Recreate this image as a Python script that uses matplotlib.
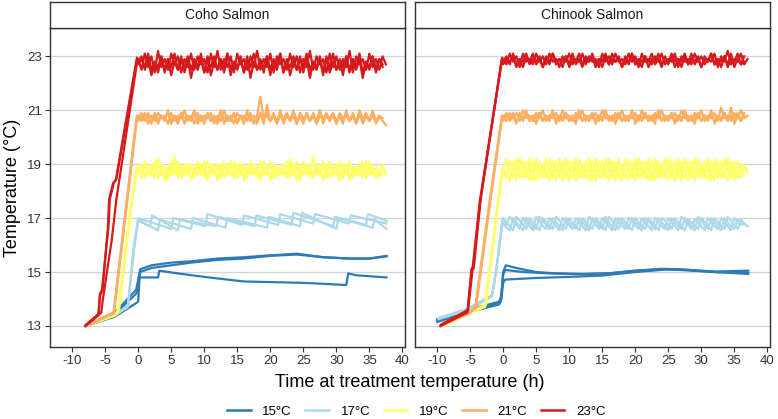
import numpy as np
import matplotlib.pyplot as plt
from matplotlib.lines import Line2D

plt.rcParams["font.family"] = ["Liberation Sans", "DejaVu Sans"]

PANELS = ["Coho Salmon", "Chinook Salmon"]
TREATMENTS = ["15°C", "17°C", "19°C", "21°C", "23°C"]
COLORS = ["#2C7BB6", "#ABD9E9", "#FFFF66", "#FDAE61", "#D7191C"]
X_TICKS = [-10, -5, 0, 5, 10, 15, 20, 25, 30, 35, 40]
Y_TICKS = [13, 15, 17, 19, 21, 23]
STEP_H = 0.5  # logger interval once the target temperature is reached

# ---------------- Coho salmon ----------------
# 15 C tanks: (hours, temp) knots
COHO_15_T = [
    [-8.0, -3.5, -0.3, -0.1, 0.3, 2, 5, 8, 12, 16, 20, 24, 28, 32, 35, 37.6],
    [-7.8, -3.5, -0.3, 0.0, 0.3, 2, 5, 8, 12, 16, 20, 24, 28, 32, 35, 37.6],
    [-7.9, -3.5, -0.3, 0.0, 0.2, 3.0, 3.2, 6, 10, 16, 25, 31.5, 31.8, 33, 37.6],
]
COHO_15_Y = [
    [13.0, 13.5, 14.35, 14.6, 15.1, 15.25, 15.35, 15.4, 15.5, 15.55, 15.62, 15.68, 15.55, 15.5, 15.5, 15.58],
    [13.05, 13.45, 14.2, 14.4, 15.0, 15.15, 15.25, 15.35, 15.45, 15.5, 15.6, 15.65, 15.55, 15.5, 15.5, 15.6],
    [13.0, 13.35, 13.85, 13.9, 14.8, 14.8, 15.05, 14.95, 14.82, 14.65, 14.6, 14.52, 14.95, 14.88, 14.8],
]
# 17 C tanks: ramp then slow sawtooth (heater cycling)
COHO_17_T = [
    [-8.0, -3.5, -1.6, -0.7, 0, 5.0, 5.3, 10.2, 10.5, 15.7, 16.0, 21.2, 21.5, 26.5, 26.8, 31.9, 32.2, 37.6],
    [-7.9, -3.5, -1.5, -0.7, 0, 1.8, 2.1, 6.0, 6.3, 11.8, 12.1, 17.6, 17.9, 23.2, 23.5, 29.5, 29.8, 34.5, 34.8, 37.6],
    [-8.0, -3.4, -1.6, -0.6, 0, 3.0, 3.3, 8.0, 8.3, 13.2, 13.5, 19.5, 19.8, 24.5, 24.8, 30.0, 30.3, 35.5, 35.8, 37.6],
]
COHO_17_Y = [
    [13.0, 13.45, 13.7, 15.8, 17.0, 16.6, 17.0, 16.7, 17.15, 16.75, 17.1, 16.75, 17.15, 16.8, 17.15, 16.8, 17.1, 16.8],
    [13.05, 13.45, 13.75, 15.9, 16.95, 16.7, 17.1, 16.55, 16.95, 16.7, 17.05, 16.7, 17.1, 16.75, 17.2, 16.7, 17.05, 16.75, 17.15, 16.9],
    [13.0, 13.4, 13.7, 15.9, 16.9, 16.55, 16.95, 16.6, 17.0, 16.65, 17.0, 16.65, 17.05, 16.7, 17.2, 16.6, 17.0, 16.65, 16.95, 16.6],
]
COHO_19_RAMP_T = [[-7.9, -3.5, -3.0, -1.0, -0.2], [-7.8, -3.5, -2.9, -0.9, -0.15], [-7.9, -3.4, -3.0, -1.05, -0.25]]
COHO_19_RAMP_Y = [[13.0, 13.45, 13.6, 17.6, 18.9], [13.05, 13.45, 13.6, 17.7, 18.8], [13.0, 13.4, 13.55, 17.6, 18.85]]
COHO_19_LOGS = [
    [18.9, 18.5, 19.1, 18.6, 19.0, 18.5, 19.2, 18.6, 18.9, 18.4, 19.0, 18.6, 19.1, 18.5, 18.9, 18.6, 19.0, 18.5, 19.1,
     18.6, 18.9, 18.4, 19.0, 18.6, 18.9, 18.5, 19.1, 18.6, 19.0, 18.5, 18.9, 18.6, 19.0, 18.5, 19.1, 18.6, 18.9, 18.4,
     19.0, 18.6, 19.1, 18.5, 18.9, 18.6, 19.0, 18.5, 19.2, 18.6, 18.9, 18.4, 19.1, 18.6, 19.0, 18.5, 18.9, 18.6, 19.1,
     18.5, 19.0, 18.6, 18.9, 18.4, 19.0, 18.6, 19.1, 18.5, 18.9, 18.6, 19.0, 18.5, 19.1, 18.6, 18.9, 18.5, 19.0, 18.6],
    [18.7, 19.0, 18.5, 18.9, 18.6, 19.1, 18.5, 19.0, 18.4, 18.9, 18.6, 19.3, 18.5, 18.9, 18.6, 19.0, 18.4, 18.9, 18.6,
     19.0, 18.5, 19.1, 18.6, 18.9, 18.4, 19.0, 18.5, 18.9, 18.6, 19.1, 18.5, 19.0, 18.4, 18.9, 18.6, 19.0, 18.5, 19.1,
     18.6, 18.9, 18.4, 19.0, 18.5, 18.9, 18.6, 19.1, 18.5, 19.0, 18.4, 18.9, 18.6, 19.0, 18.5, 19.3, 18.6, 18.9, 18.4,
     19.0, 18.5, 18.9, 18.6, 19.1, 18.5, 19.0, 18.4, 18.9, 18.6, 19.0, 18.5, 19.1, 18.6, 18.9, 18.5, 18.8],
    [18.8, 18.6, 19.0, 18.7, 18.9, 18.5, 19.0, 18.7, 18.9, 18.6, 19.1, 18.7, 18.9, 18.5, 19.0, 18.7, 18.9, 18.6, 19.0,
     18.7, 19.1, 18.5, 18.9, 18.7, 19.0, 18.6, 18.9, 18.7, 19.1, 18.5, 19.0, 18.7, 18.9, 18.6, 19.0, 18.7, 18.9, 18.5,
     19.1, 18.7, 19.0, 18.6, 18.9, 18.7, 19.0, 18.5, 18.9, 18.7, 19.1, 18.6, 19.0, 18.7, 18.9, 18.5, 19.0, 18.7, 18.9,
     18.6, 19.1, 18.7, 19.0, 18.5, 18.9, 18.7, 19.0, 18.6, 18.9, 18.7, 19.1, 18.5, 19.0, 18.7, 18.9, 18.6, 18.7],
]
COHO_21_RAMP_T = [[-7.8, -3.7, -0.2], [-7.7, -3.65, -0.15], [-7.9, -3.75, -0.25]]
COHO_21_RAMP_Y = [[13.0, 13.5, 20.8], [13.05, 13.5, 20.75], [13.0, 13.45, 20.7]]
COHO_21_LOGS = [
    [20.8, 20.6, 20.9, 20.5, 20.8, 20.6, 20.9, 20.7, 20.8, 20.5, 20.9, 20.6, 20.8, 20.7, 21.0, 20.6, 20.8, 20.5, 20.9,
     20.6, 20.8, 20.7, 20.9, 20.5, 20.8, 20.6, 21.0, 20.6, 20.8, 20.5, 20.9, 20.7, 20.8, 20.6, 20.9, 20.5, 20.8, 21.5,
     20.7, 20.9, 20.6, 20.8, 20.5, 21.0, 20.6, 20.8, 20.7, 20.9, 20.5, 20.8, 20.6, 20.9, 20.6, 20.8, 20.5, 21.0, 20.6,
     20.8, 20.7, 20.9, 20.5, 20.8, 20.6, 20.9, 20.6, 20.8, 20.5, 21.0, 20.7, 20.8, 20.6, 20.9, 20.5, 20.8, 20.6, 20.45],
    [20.7, 20.9, 20.6, 20.8, 20.5, 20.9, 20.6, 20.8, 20.6, 21.0, 20.5, 20.8, 20.6, 20.9, 20.5, 20.8, 20.7, 21.0, 20.6,
     20.8, 20.5, 20.9, 20.6, 20.8, 20.6, 21.0, 20.5, 20.8, 20.6, 20.9, 20.6, 20.8, 20.5, 21.0, 20.6, 20.8, 20.6, 20.9,
     20.5, 21.2, 20.6, 20.8, 20.6, 20.9, 20.5, 20.8, 20.6, 21.0, 20.6, 20.8, 20.5, 20.9, 20.6, 20.8, 20.6, 21.0, 20.5,
     20.8, 20.6, 20.9, 20.6, 20.8, 20.5, 21.0, 20.6, 20.8, 20.6, 20.9, 20.5, 20.8, 20.6, 21.0, 20.6, 20.8, 20.7],
    [20.6, 20.8, 20.7, 20.9, 20.6, 20.8, 20.5, 20.8, 20.7, 20.9, 20.6, 20.8, 20.5, 20.9, 20.7, 20.8, 20.6, 20.9, 20.5,
     20.8, 20.7, 20.9, 20.6, 20.8, 20.5, 20.9, 20.7, 20.8, 20.6, 20.9, 20.5, 20.8, 20.7, 20.9, 20.6, 20.8, 20.5, 20.9,
     20.7, 20.8, 20.6, 20.9, 20.5, 20.8, 20.7, 20.9, 20.6, 20.8, 20.5, 20.9, 20.7, 20.8, 20.6, 20.9, 20.5, 20.8, 20.7,
     20.9, 20.6, 20.8, 20.5, 20.9, 20.7, 20.8, 20.6, 20.9, 20.5, 20.8, 20.7, 20.9, 20.6, 20.8, 20.6, 20.7],
]
COHO_23_RAMP_T = [
    [-8.0, -6.0, -5.8, -5.4, -4.6, -4.4, -3.8, -3.4, -0.2],
    [-8.0, -5.6, -5.4, -4.0, -3.3, -0.1],
    [-7.9, -6.0, -5.8, -5.5, -4.5, -4.3, -3.7, -3.3, -0.2],
]
COHO_23_RAMP_Y = [
    [13.0, 13.4, 14.2, 14.35, 16.6, 17.7, 18.3, 18.4, 22.95],
    [13.0, 13.5, 13.9, 16.2, 17.7, 22.9],
    [13.05, 13.45, 14.1, 14.3, 16.7, 17.7, 18.3, 18.45, 22.85],
]
COHO_23_LOGS = [
    [22.9, 22.5, 23.1, 22.6, 23.0, 22.4, 23.2, 22.6, 22.9, 22.5, 23.1, 22.7, 23.0, 22.4, 22.9, 22.6, 23.1, 22.5, 23.0,
     22.7, 22.9, 22.4, 23.1, 22.6, 23.2, 22.5, 22.9, 22.6, 23.0, 22.4, 23.1, 22.7, 22.9, 22.5, 23.0, 22.6, 23.2, 22.5,
     22.9, 22.6, 23.1, 22.4, 23.0, 22.7, 22.9, 22.5, 23.1, 22.6, 23.0, 22.4, 22.9, 22.6, 23.2, 22.5, 23.0, 22.7, 22.9,
     22.4, 23.1, 22.6, 23.0, 22.5, 22.9, 22.6, 23.2, 22.4, 23.0, 22.7, 22.9, 22.5, 23.1, 22.6, 22.9, 22.5, 23.0, 22.7],
    [22.8, 23.0, 22.5, 22.9, 22.3, 22.8, 22.4, 23.0, 22.5, 22.9, 22.3, 22.8, 22.5, 23.0, 22.4, 22.9, 22.2, 22.8, 22.5,
     22.9, 22.4, 23.0, 22.3, 22.8, 22.5, 22.9, 22.4, 23.1, 22.3, 22.8, 22.5, 22.9, 22.4, 23.0, 22.2, 22.8, 22.5, 22.9,
     22.4, 23.0, 22.3, 22.8, 22.5, 23.1, 22.4, 22.9, 22.3, 22.8, 22.5, 23.0, 22.4, 22.9, 22.2, 22.8, 22.5, 22.9, 22.3,
     23.0, 22.4, 22.8, 22.5, 22.9, 22.3, 23.0, 22.4, 22.8, 22.5, 22.9, 22.2, 22.8, 22.5, 23.0, 22.4, 22.9, 22.6],
    [22.7, 22.9, 22.6, 23.1, 22.5, 22.8, 22.6, 23.0, 22.4, 22.9, 22.6, 23.1, 22.5, 22.8, 22.6, 23.0, 22.5, 22.9, 22.6,
     23.1, 22.4, 22.8, 22.6, 23.0, 22.5, 22.9, 22.6, 23.1, 22.5, 22.8, 22.6, 23.0, 22.4, 22.9, 22.6, 23.1, 22.5, 22.8,
     22.6, 23.0, 22.5, 22.9, 22.6, 23.1, 22.4, 22.8, 22.6, 23.0, 22.5, 22.9, 22.6, 23.1, 22.5, 22.8, 22.6, 23.0, 22.4,
     22.9, 22.6, 23.1, 22.5, 22.8, 22.6, 23.0, 22.5, 22.9, 22.6, 23.1, 22.4, 22.8, 22.6, 23.0, 22.5, 22.9, 22.7],
]

# ---------------- Chinook salmon ----------------
CHIN_15_T = [
    [-10.0, -5.3, -0.6, -0.3, 0.0, 0.4, 2, 5, 8, 12, 16, 20, 24, 28, 32, 37.1],
    [-10.0, -5.3, -0.6, -0.3, 0.0, 0.3, 3, 7, 12, 16, 20, 24, 27, 32, 37.1],
    [-10.0, -5.3, -0.6, -0.3, 0.0, 0.3, 5, 10, 15, 20, 25, 30, 37.1],
]
CHIN_15_Y = [
    [13.2, 13.55, 13.85, 14.0, 15.0, 15.25, 15.15, 15.0, 14.95, 14.93, 14.95, 15.05, 15.1, 15.08, 15.02, 15.05],
    [13.25, 13.6, 13.9, 14.1, 14.9, 15.08, 15.0, 14.95, 14.92, 14.95, 15.05, 15.12, 15.1, 15.0, 14.98],
    [13.15, 13.5, 13.8, 13.95, 14.6, 14.72, 14.78, 14.82, 14.87, 15.0, 15.1, 15.03, 14.93],
]
CHIN_17_RAMP_T = [[-9.8, -5.3, -1.7, -1.2, -1.0, -0.1], [-9.7, -5.3, -1.65, -1.15, -0.95, -0.1],
                  [-9.8, -5.2, -1.7, -1.25, -1.0, -0.15]]
CHIN_17_RAMP_Y = [[13.3, 13.6, 14.1, 14.85, 15.2, 16.9], [13.3, 13.65, 14.15, 14.9, 15.2, 16.95],
                  [13.25, 13.6, 14.1, 14.8, 15.15, 16.85]]
CHIN_17_LOGS = [
    [17.0, 16.85, 16.7, 16.55, 17.05, 16.9, 16.75, 16.6, 17.0, 16.85, 16.7, 16.55, 17.0, 16.85, 16.7, 16.6, 17.05,
     16.9, 16.75, 16.6, 17.0, 16.85, 16.7, 16.55, 17.0, 16.85, 16.7, 16.6, 17.0, 16.85, 16.7, 16.55, 17.05, 16.9,
     16.75, 16.6, 17.0, 16.85, 16.7, 16.55, 17.0, 16.85, 16.7, 16.6, 17.0, 16.85, 16.7, 16.55, 17.0, 16.9, 16.75,
     16.6, 17.0, 16.85, 16.7, 16.55, 16.95, 16.85, 16.7, 16.6, 17.0, 16.85, 16.7, 16.55, 17.0, 16.85, 16.7, 16.6,
     17.05, 16.9, 16.75, 16.6, 16.95, 16.8, 16.7],
    [16.9, 16.75, 17.05, 16.9, 16.75, 16.6, 17.0, 16.85, 16.7, 16.55, 17.05, 16.9, 16.7, 16.6, 17.0, 16.85, 16.7,
     16.55, 17.0, 16.85, 16.75, 16.6, 17.0, 16.85, 16.7, 16.55, 17.05, 16.9, 16.75, 16.6, 17.0, 16.85, 16.7, 16.55,
     17.0, 16.85, 16.7, 16.6, 17.0, 16.9, 16.75, 16.6, 17.0, 16.85, 16.7, 16.55, 17.0, 16.85, 16.7, 16.6, 17.0,
     16.85, 16.7, 16.55, 17.05, 16.9, 16.75, 16.6, 16.95, 16.85, 16.7, 16.55, 17.0, 16.85, 16.7, 16.6, 17.0, 16.85,
     16.7, 16.55, 17.0, 16.85, 16.75, 16.8],
    [16.8, 16.65, 16.55, 17.0, 16.85, 16.7, 16.55, 17.0, 16.85, 16.7, 16.6, 17.05, 16.9, 16.75, 16.6, 17.0, 16.85,
     16.7, 16.55, 17.0, 16.85, 16.7, 16.6, 17.0, 16.85, 16.7, 16.55, 17.0, 16.9, 16.75, 16.6, 17.05, 16.85, 16.7,
     16.55, 17.0, 16.85, 16.7, 16.6, 17.0, 16.85, 16.7, 16.55, 17.0, 16.9, 16.75, 16.6, 17.0, 16.85, 16.7, 16.55,
     17.0, 16.85, 16.7, 16.6, 17.0, 16.85, 16.7, 16.55, 17.05, 16.9, 16.75, 16.6, 17.0, 16.85, 16.7, 16.55, 17.0,
     16.85, 16.7, 16.6, 16.95, 16.8],
]
CHIN_19_RAMP_T = [[-9.0, -5.3, -2.7, -0.75, -0.1], [-8.9, -5.2, -2.6, -0.7, -0.05], [-9.0, -5.3, -2.75, -0.8, -0.1]]
CHIN_19_RAMP_Y = [[13.0, 13.45, 13.75, 17.7, 18.85], [13.05, 13.5, 13.8, 17.7, 18.8], [13.0, 13.45, 13.7, 17.6, 18.8]]
CHIN_19_LOGS = [
    [18.9, 19.2, 18.8, 18.5, 19.2, 18.8, 18.5, 19.1, 18.8, 18.4, 19.2, 18.8, 18.5, 19.2, 18.8, 18.5, 19.1, 18.7, 18.4,
     19.2, 18.8, 18.5, 19.2, 18.8, 18.5, 19.1, 18.8, 18.4, 19.2, 18.8, 18.5, 19.2, 18.8, 18.5, 19.1, 18.7, 18.4, 19.2,
     18.8, 18.5, 19.2, 18.8, 18.5, 19.1, 18.8, 18.4, 19.2, 18.8, 18.5, 19.2, 18.8, 18.5, 19.1, 18.7, 18.4, 19.2, 18.8,
     18.5, 19.2, 18.8, 18.5, 19.1, 18.8, 18.4, 19.2, 18.8, 18.5, 19.2, 18.8, 18.5, 19.1, 18.7, 18.5, 19.0, 18.7],
    [18.7, 18.5, 19.1, 18.8, 18.4, 19.2, 18.8, 18.5, 19.2, 18.7, 18.4, 19.1, 18.8, 18.5, 19.2, 18.8, 18.4, 19.2, 18.7,
     18.5, 19.1, 18.8, 18.4, 19.2, 18.8, 18.5, 19.2, 18.7, 18.4, 19.1, 18.8, 18.5, 19.2, 18.8, 18.4, 19.2, 18.7, 18.5,
     19.1, 18.8, 18.4, 19.2, 18.8, 18.5, 19.2, 18.7, 18.4, 19.1, 18.8, 18.5, 19.2, 18.8, 18.4, 19.2, 18.7, 18.5, 19.1,
     18.8, 18.4, 19.2, 18.8, 18.5, 19.2, 18.7, 18.4, 19.1, 18.8, 18.5, 19.2, 18.8, 18.4, 19.1, 18.7, 18.6],
    [18.8, 18.6, 18.4, 19.1, 18.8, 18.5, 19.1, 18.7, 18.4, 19.1, 18.8, 18.5, 19.0, 18.7, 18.4, 19.1, 18.8, 18.5, 19.1,
     18.7, 18.4, 19.1, 18.8, 18.5, 19.0, 18.7, 18.4, 19.1, 18.8, 18.5, 19.1, 18.7, 18.4, 19.1, 18.8, 18.5, 19.0, 18.7,
     18.4, 19.1, 18.8, 18.5, 19.1, 18.7, 18.4, 19.1, 18.8, 18.5, 19.0, 18.7, 18.4, 19.1, 18.8, 18.5, 19.1, 18.7, 18.4,
     19.1, 18.8, 18.5, 19.0, 18.7, 18.4, 19.1, 18.8, 18.5, 19.1, 18.7, 18.4, 19.1, 18.8, 18.5, 18.9],
]
CHIN_21_RAMP_T = [[-9.2, -5.3, -4.2, -2.0, -0.2], [-9.1, -5.3, -4.1, -1.9, -0.15], [-9.2, -5.2, -4.25, -2.05, -0.2]]
CHIN_21_RAMP_Y = [[13.05, 13.5, 13.65, 17.7, 20.8], [13.1, 13.5, 13.7, 17.7, 20.75], [13.05, 13.45, 13.65, 17.6, 20.7]]
CHIN_21_LOGS = [
    [20.8, 20.6, 20.9, 20.7, 20.9, 20.6, 21.0, 20.7, 20.8, 20.6, 20.9, 20.7, 21.0, 20.6, 20.8, 20.7, 20.9, 20.6, 21.0,
     20.7, 20.8, 20.6, 20.9, 20.7, 21.0, 20.6, 20.8, 20.7, 20.9, 20.6, 21.0, 20.7, 20.8, 20.6, 20.9, 20.7, 21.0, 20.6,
     20.8, 20.7, 20.9, 20.6, 21.0, 20.7, 20.8, 20.6, 20.9, 20.7, 21.0, 20.6, 20.8, 20.7, 20.9, 20.6, 21.0, 20.7, 20.8,
     20.6, 20.9, 20.7, 21.0, 20.6, 20.8, 20.7, 20.9, 20.6, 21.1, 20.7, 20.8, 20.6, 20.9, 20.7, 21.0, 20.7, 20.8],
    [20.7, 20.9, 20.6, 20.8, 20.5, 20.9, 20.6, 21.0, 20.6, 20.8, 20.5, 20.9, 20.6, 20.8, 20.6, 21.0, 20.5, 20.8, 20.6,
     20.9, 20.6, 20.8, 20.5, 21.0, 20.6, 20.8, 20.6, 20.9, 20.5, 20.8, 20.6, 21.0, 20.6, 20.8, 20.5, 20.9, 20.6, 20.8,
     20.6, 21.0, 20.5, 20.8, 20.6, 20.9, 20.6, 20.8, 20.5, 21.0, 20.6, 20.8, 20.6, 20.9, 20.5, 20.8, 20.6, 21.0, 20.6,
     20.8, 20.5, 20.9, 20.6, 20.8, 20.6, 21.0, 20.5, 20.8, 20.6, 20.9, 20.6, 21.1, 20.5, 20.8, 20.6, 20.9],
    [20.6, 20.8, 20.7, 20.9, 20.6, 20.8, 20.7, 20.9, 20.6, 20.8, 20.7, 20.9, 20.6, 20.8, 20.7, 20.9, 20.6, 20.8, 20.7,
     20.9, 20.6, 20.8, 20.7, 20.9, 20.6, 20.8, 20.7, 20.9, 20.6, 20.8, 20.7, 20.9, 20.6, 20.8, 20.7, 20.9, 20.6, 20.8,
     20.7, 20.9, 20.6, 20.8, 20.7, 20.9, 20.6, 20.8, 20.7, 20.9, 20.6, 20.8, 20.7, 20.9, 20.6, 20.8, 20.7, 20.9, 20.6,
     20.8, 20.7, 20.9, 20.6, 20.8, 20.7, 20.9, 20.6, 20.8, 20.7, 20.9, 20.6, 20.8, 20.7, 20.9, 20.6, 20.8],
]
CHIN_23_RAMP_T = [[-9.5, -5.4, -4.75, -4.55, -3.5, -0.2], [-9.4, -5.3, -4.65, -4.45, -3.4, -0.15],
                  [-9.5, -5.4, -4.8, -4.6, -3.55, -0.2]]
CHIN_23_RAMP_Y = [[13.0, 13.55, 15.1, 15.15, 17.6, 22.9], [13.05, 13.6, 15.05, 15.15, 17.7, 22.95],
                  [13.0, 13.5, 15.1, 15.2, 17.6, 22.85]]
CHIN_23_LOGS = [
    [22.9, 22.7, 23.1, 22.8, 23.0, 22.6, 23.1, 22.8, 22.9, 22.7, 23.1, 22.8, 23.0, 22.7, 23.1, 22.8, 22.9, 22.6, 23.0,
     22.8, 23.1, 22.7, 22.9, 22.8, 23.1, 22.7, 23.0, 22.8, 22.9, 22.6, 23.1, 22.8, 23.0, 22.7, 23.1, 22.8, 22.9, 22.7,
     23.1, 22.8, 23.0, 22.6, 23.1, 22.8, 22.9, 22.7, 23.0, 22.8, 23.1, 22.7, 22.9, 22.8, 23.1, 22.6, 23.0, 22.8, 22.9,
     22.7, 23.1, 22.8, 23.0, 22.7, 22.9, 22.8, 23.1, 22.6, 23.0, 22.8, 23.2, 22.7, 22.9, 22.8, 23.1, 22.7, 22.9],
    [22.8, 23.0, 22.7, 23.1, 22.7, 22.9, 22.6, 23.0, 22.8, 23.1, 22.7, 22.9, 22.6, 23.0, 22.7, 23.1, 22.8, 22.9, 22.6,
     23.0, 22.7, 23.1, 22.7, 22.9, 22.6, 23.0, 22.8, 23.1, 22.7, 22.9, 22.6, 23.0, 22.7, 23.1, 22.8, 22.9, 22.6, 23.0,
     22.7, 23.1, 22.7, 22.9, 22.6, 23.0, 22.8, 23.1, 22.7, 22.9, 22.6, 23.0, 22.7, 23.1, 22.8, 22.9, 22.6, 23.0, 22.7,
     23.1, 22.7, 22.9, 22.6, 23.0, 22.8, 23.1, 22.7, 22.9, 22.6, 23.0, 22.7, 23.1, 22.6, 22.9, 22.7, 23.0],
    [22.7, 22.9, 22.8, 23.0, 22.6, 22.9, 22.8, 23.1, 22.7, 22.9, 22.8, 23.0, 22.6, 22.9, 22.8, 23.1, 22.7, 22.9, 22.8,
     23.0, 22.6, 22.9, 22.8, 23.1, 22.7, 22.9, 22.8, 23.0, 22.6, 22.9, 22.8, 23.1, 22.7, 22.9, 22.8, 23.0, 22.6, 22.9,
     22.8, 23.1, 22.7, 22.9, 22.8, 23.0, 22.6, 22.9, 22.8, 23.1, 22.7, 22.9, 22.8, 23.0, 22.6, 22.9, 22.8, 23.1, 22.7,
     22.9, 22.8, 23.0, 22.6, 22.9, 22.8, 23.1, 22.7, 22.9, 22.8, 23.0, 22.6, 22.9, 22.8, 23.1, 22.7, 22.8],
]


def knot_traces(times, temps):
    return [(np.array(t), np.array(y)) for t, y in zip(times, temps)]


def logged_traces(ramp_times, ramp_temps, logs):
    traces = []
    for t, y, vals in zip(ramp_times, ramp_temps, logs):
        hours = STEP_H * np.arange(len(vals))
        traces.append((np.concatenate([t, hours]), np.concatenate([y, vals])))
    return traces


def panel_series():
    coho = [
        knot_traces(COHO_15_T, COHO_15_Y),
        knot_traces(COHO_17_T, COHO_17_Y),
        logged_traces(COHO_19_RAMP_T, COHO_19_RAMP_Y, COHO_19_LOGS),
        logged_traces(COHO_21_RAMP_T, COHO_21_RAMP_Y, COHO_21_LOGS),
        logged_traces(COHO_23_RAMP_T, COHO_23_RAMP_Y, COHO_23_LOGS),
    ]
    chinook = [
        knot_traces(CHIN_15_T, CHIN_15_Y),
        logged_traces(CHIN_17_RAMP_T, CHIN_17_RAMP_Y, CHIN_17_LOGS),
        logged_traces(CHIN_19_RAMP_T, CHIN_19_RAMP_Y, CHIN_19_LOGS),
        logged_traces(CHIN_21_RAMP_T, CHIN_21_RAMP_Y, CHIN_21_LOGS),
        logged_traces(CHIN_23_RAMP_T, CHIN_23_RAMP_Y, CHIN_23_LOGS),
    ]
    return [coho, chinook]


def plot_temperature_profiles():
    fig = plt.figure(figsize=(7.78, 4.19), dpi=100)
    lefts = [0.0643, 0.5334]
    width, bottom, height = 0.4563, 0.1718, 0.7614
    border = "#333333"

    for left, name, groups in zip(lefts, PANELS, panel_series()):
        ax = fig.add_axes([left, bottom, width, height])
        for color, traces in zip(COLORS, groups):
            for t, y in traces:
                ax.plot(t, y, color=color, linewidth=1.6)

        ax.set_xlim(-13.35, 40.4)
        ax.set_ylim(12.22, 24.05)
        ax.set_xticks(X_TICKS)
        ax.set_yticks(Y_TICKS)
        ax.set_xticklabels([str(v) for v in X_TICKS])
        ax.grid(axis="y", color="#D4D4D4", linewidth=0.9)
        ax.set_axisbelow(True)
        ax.tick_params(axis="both", direction="out", length=3.5, width=0.8, color=border,
                       labelsize=9.5, labelcolor="#333333", pad=2.5)
        for spine in ax.spines.values():
            spine.set_color(border)
            spine.set_linewidth(1.0)
        if left > 0.3:
            ax.tick_params(axis="y", labelleft=False, left=False)

        strip = fig.add_axes([left, bottom + height, width, 0.063])
        strip.set_xticks([])
        strip.set_yticks([])
        strip.set_facecolor("white")
        for spine in strip.spines.values():
            spine.set_color(border)
            spine.set_linewidth(1.0)
        strip.text(0.5, 0.5, name, ha="center", va="center", fontsize=10, color="#1A1A1A",
                   transform=strip.transAxes)

    fig.text(0.016, bottom + height / 2, "Temperature (°C)", rotation=90, ha="center", va="center",
             fontsize=13)
    fig.text(0.527, 0.086, "Time at treatment temperature (h)", ha="center", va="center", fontsize=13)

    handles = [Line2D([], [], color=c, linewidth=1.8) for c in COLORS]
    fig.legend(handles, TREATMENTS, loc="center", bbox_to_anchor=(0.535, 0.017), ncol=5, frameon=False,
               fontsize=9.5, handlelength=1.8, handletextpad=0.9, columnspacing=1.0)

    return fig


if __name__ == "__main__":
    figure = plot_temperature_profiles()
    figure.savefig("out.png", dpi=100)
